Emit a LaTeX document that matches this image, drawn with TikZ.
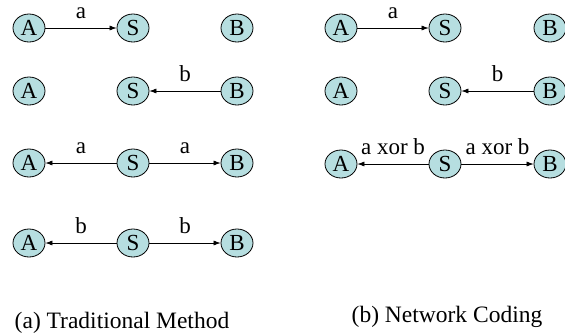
\documentclass[tikz,border=0pt]{standalone}
\usepackage{fontspec}
\setmainfont{Liberation Serif}
\usetikzlibrary{shapes.geometric,arrows.meta}
\definecolor{nodefill}{RGB}{182,222,224}
\begin{document}
\begin{tikzpicture}[x=1pt,y=-1pt,
  nd/.style={ellipse,draw,fill=nodefill,line width=0.8pt,minimum width=32pt,minimum height=28pt,inner sep=0pt,font=\fontsize{23}{23}\selectfont},
  arr/.style={-{Latex[length=7pt,width=5pt]},line width=0.6pt},
  lab/.style={above=9pt,inner sep=0pt,font=\fontsize{23}{23}\selectfont},
  captext/.style={anchor=base,font=\fontsize{23.5}{23.5}\selectfont}]
\useasboundingbox (0,0) rectangle (565,333);
% left panel
\node[nd] (a1) at (29,28) {A};
\node[nd] (s1) at (133,28) {S};
\node[nd] (b1) at (237,28) {B};
\node[nd] (a2) at (29,91) {A};
\node[nd] (s2) at (133,91) {S};
\node[nd] (b2) at (237,91) {B};
\node[nd] (a3) at (29,163) {A};
\node[nd] (s3) at (133,163) {S};
\node[nd] (b3) at (237,163) {B};
\node[nd] (a4) at (29,243) {A};
\node[nd] (s4) at (133,243) {S};
\node[nd] (b4) at (237,243) {B};
\draw[arr] (a1) -- node[lab] {a} (s1);
\draw[arr] (b2) -- node[lab] {b} (s2);
\draw[arr] (s3) -- node[lab] {a} (a3);
\draw[arr] (s3) -- node[lab] {a} (b3);
\draw[arr] (s4) -- node[lab] {b} (a4);
\draw[arr] (s4) -- node[lab] {b} (b4);
% right panel
\node[nd] (ra1) at (341,28) {A};
\node[nd] (rs1) at (445,28) {S};
\node[nd] (rb1) at (550,28) {B};
\node[nd] (ra2) at (341,91) {A};
\node[nd] (rs2) at (445,91) {S};
\node[nd] (rb2) at (550,91) {B};
\node[nd] (ra3) at (341,164) {A};
\node[nd] (rs3) at (445,164) {S};
\node[nd] (rb3) at (550,164) {B};
\draw[arr] (ra1) -- node[lab] {a} (rs1);
\draw[arr] (rb2) -- node[lab] {b} (rs2);
\draw[arr] (rs3) -- node[lab] {a xor b} (ra3);
\draw[arr] (rs3) -- node[lab] {a xor b} (rb3);
% captions
\node[captext] (ca) at (122,328) {(a) Traditional Method};
\node[captext] (cb) at (447,322) {(b) Network Coding};
\end{tikzpicture}
\end{document}
